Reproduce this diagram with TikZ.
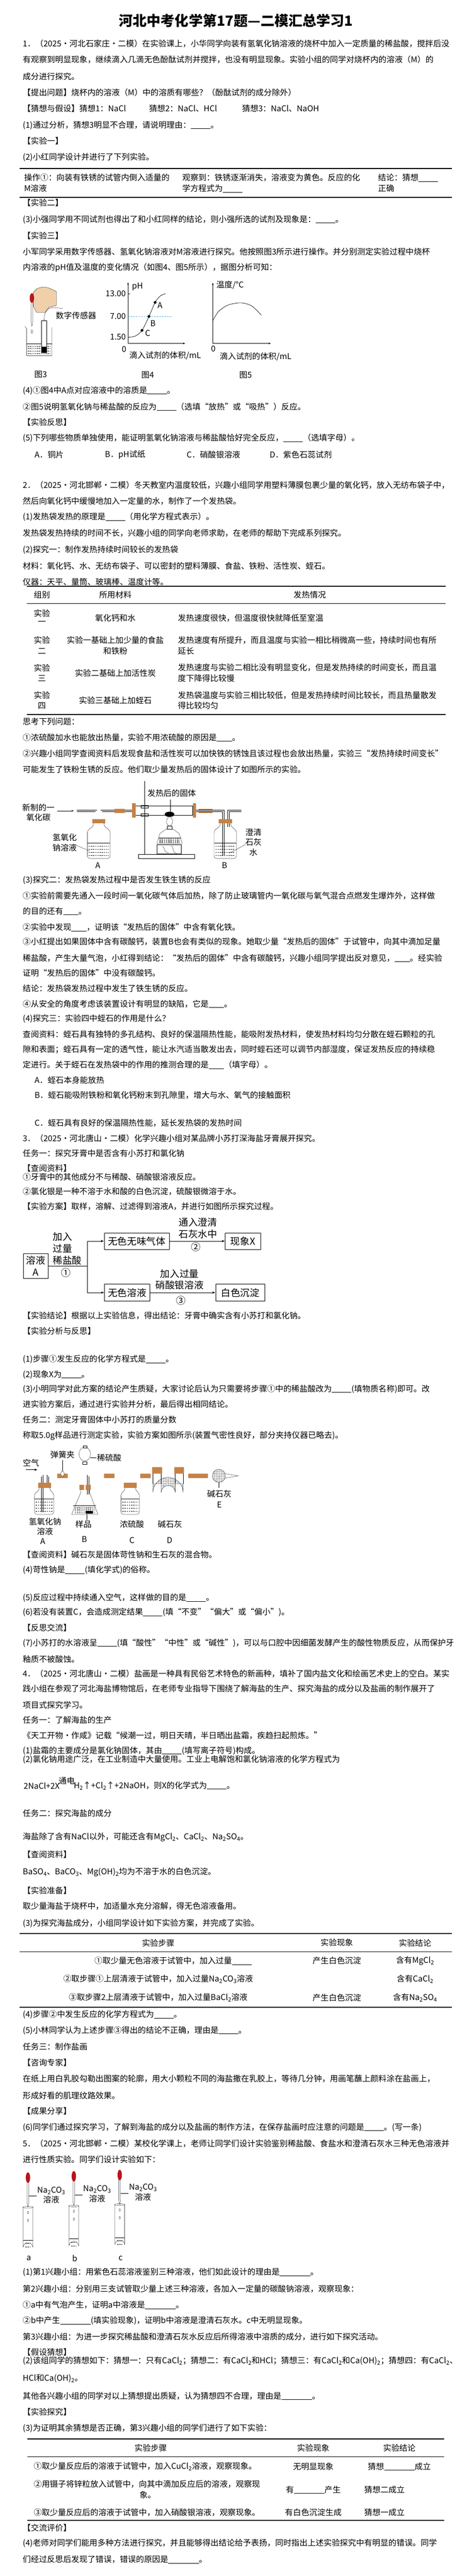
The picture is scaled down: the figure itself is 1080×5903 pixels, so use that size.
\documentclass[tikz,border=0pt]{standalone}
\usepackage{fontspec}
\setmainfont{Noto Sans CJK SC}
\usepackage{tikz}
\usetikzlibrary{positioning}
\usetikzlibrary{arrows.meta}
\usetikzlibrary{patterns}
\definecolor{rubber}{RGB}{196,130,70}
\definecolor{skin}{RGB}{240,208,170}
\definecolor{bulbred}{RGB}{185,20,30}
\definecolor{phblue}{RGB}{60,170,220}
\newcommand\fs{\fontsize{18.5}{23}\selectfont}
\newcommand\blank[1][45pt]{\underline{\hspace{#1}}}
\newcommand\sub[1]{\textsubscript{#1}}
\newcounter{ln}
\newcommand\qline[2]{\stepcounter{ln}\node[txt] (ln\theln) at (52,#1) {#2};}
\newcommand\qat[3]{\stepcounter{ln}\node[txt] (ln\theln) at (#1,#2) {#3};}
\newcommand\qmid[3]{\stepcounter{ln}\node[cell] (ln\theln) at (#1,#2) {#3};}
\newcommand\liquid[4]{\draw (#1,#3) -- (#2,#3);
  \foreach \k in {1,...,4}{\draw[densely dashed, thin] (#1+3,{#3+\k*(#4-#3)/5}) -- (#2-3,{#3+\k*(#4-#3)/5});}}
\tikzset{
	txt/.style={anchor=west, inner sep=0pt, font=\fs},
	cell/.style={inner sep=0pt, font=\fs},
	lbl/.style={inner sep=0pt, font=\fs, align=center},
	glass/.style={double distance=3pt, line width=0.6pt},
	fbox/.style={draw, thick, inner sep=3pt, minimum height=38pt, font=\fontsize{22}{27}\selectfont, align=center},
	rule/.style={line width=2.5pt},
	thinrule/.style={line width=0.8pt},
}
\begin{document}
\begin{tikzpicture}[x=1pt, y=-1pt]
		\useasboundingbox[fill=white] (0,0) rectangle (1080,5903);
		% Title
		\node[inner sep=0pt, font=\fontsize{32}{36}\selectfont\bfseries] (title) at (540,47) {河北中考化学第17题---二模汇总学习1};
		% Question 1
		\qline{100}{1．（2025·河北石家庄·二模）在实验课上，小华同学向装有氢氧化钠溶液的烧杯中加入一定质量的稀盐酸，搅拌后没}
		\qline{137}{有观察到明显现象，继续滴入几滴无色酚酞试剂并搅拌，也没有明显现象。实验小组的同学对烧杯内的溶液（M）的}
		\qline{175}{成分进行探究。}
		\qline{212}{【提出问题】烧杯内的溶液（M）中的溶质有哪些？（酚酞试剂的成分除外）}
		\qline{248}{【猜想与假设】猜想1：NaCl}
		\qat{341}{248}{猜想2：NaCl、HCl}
		\qat{554}{248}{猜想3：NaCl、NaOH}
		\qline{287}{(1)通过分析，猜想3明显不合理，请说明理由：\blank。}
		\qline{323}{【实验一】}
		\qline{360}{(2)小红同学设计并进行了下列实验。}
		\draw[rule] (45,386) -- (1034,386);
		\qat{55}{407}{操作①：向装有铁锈的试管内倒入适量的}
		\qat{55}{432}{M溶液}
		\qat{417}{407}{观察到：铁锈逐渐消失，溶液变为黄色。反应的化}
		\qat{417}{432}{学方程式为\blank}
		\qat{865}{407}{结论：猜想\blank}
		\qat{865}{432}{正确}
		\draw[rule] (45,452) -- (1034,452);
		\qline{465}{【实验二】}
		\qline{503}{(3)小强同学用不同试剂也得出了和小红同样的结论，则小强所选的试剂及现象是：\blank。}
		\qline{540}{【实验三】}
		\qline{577}{小军同学采用数字传感器、氢氧化钠溶液对M溶液进行探究。他按照图3所示进行操作。并分别测定实验过程中烧杯}
		\qline{613}{内溶液的pH值及温度的变化情况（如图4、图5所示），据图分析可知：}
		% Figure 3: dropper, beaker and sensor
		\filldraw[fill=skin] (76,702) -- (76,672) .. controls (80,660) and (96,655) .. (112,660) -- (129,668) -- (129,700) -- (112,704) -- (104,716) -- (84,716) -- cycle;
		\fill[bulbred] (73,683) ellipse (5 and 11);
		\draw (71,694) -- (71,736) -- (73,748) -- (75,736) -- (75,694);
		\draw (57,748) -- (61,753) -- (61,815) -- (119,815) -- (119,750);
		\liquid{61}{119}{788}{815}
		\draw[fill=white] (95,735) rectangle (107,808);
		\fill (96,794) rectangle (106,807);
		\draw (101,735) .. controls (101,700) and (118,704) .. (144,707);
		\draw (73,760) ellipse (2 and 4);
		\node[lbl] (sensor) at (174,723) {数字传感器};
		\node[lbl] (f3) at (93,858) {图3};
		% Figure 4: pH curve
		\draw[-{Latex}] (293,787) -- (293,647);
		\draw[-{Latex}] (293,787) -- (424,787);
		\draw (293,673) -- (298,673);
		\node[lbl, anchor=east] (t13) at (288,673) {13.00};
		\node[lbl, anchor=east] (t7) at (288,725) {7.00};
		\node[lbl, anchor=east] (t15) at (288,772) {1.50};
		\node[lbl, anchor=west] (phl) at (302,657) {pH};
		\draw[phblue, dashed, thick] (293,725) -- (393,725);
		\draw[thick] plot[smooth] coordinates {(293,773) (310,770) (325,757) (341,725) (355,693) (367,678) (379,673)};
		\fill (325,757) circle (3.2) (341,725) circle (3.2) (355,693) circle (3.2);
		\node[lbl] (pA) at (366,700) {A};
		\node[lbl] (pB) at (350,741) {B};
		\node[lbl] (pC) at (338,763) {C};
		\node[lbl] (o4) at (284,800) {0};
		\node[lbl, anchor=west] (x4) at (296,815) {滴入试剂的体积/mL};
		\node[lbl] (f4) at (338,859) {图4};
		% Figure 5: temperature curve
		\draw[-{Latex}] (487,787) -- (487,648);
		\draw[-{Latex}] (487,787) -- (620,787);
		\node[lbl, anchor=west] (tl) at (495,653) {温度/°C};
		\draw[thick] plot[smooth] coordinates {(487,735) (500,714) (522,699) (551,694) (576,701) (598,722)};
		\node[lbl] (o5) at (488,799) {0};
		\node[lbl, anchor=west] (x5) at (503,817) {滴入试剂的体积/mL};
		\node[lbl] (f5) at (562,859) {图5};
		\qline{895}{(4)①图4中A点对应溶液中的溶质是\blank。}
		\qline{932}{②图5说明氢氧化钠与稀盐酸的反应为\blank（选填“放热”或“吸热”）反应。}
		\qline{967}{【实验反思】}
		\qline{1004}{(5)下列哪些物质单独使用，能证明氢氧化钠溶液与稀盐酸恰好完全反应，\blank（选填字母）。}
		\qat{79}{1042}{A．铜片}
		\qat{240}{1042}{B．pH试纸}
		\qat{427}{1042}{C．硝酸银溶液}
		\qat{617}{1042}{D．紫色石蕊试剂}
		% Question 2
		\qline{1112}{2．（2025·河北邯郸·二模）冬天教室内温度较低，兴趣小组同学用塑料薄膜包裹少量的氧化钙，放入无纺布袋子中，}
		\qline{1148}{然后向氧化钙中缓慢地加入一定量的水，制作了一个发热袋。}
		\qline{1185}{(1)发热袋发热的原理是\blank（用化学方程式表示）。}
		\qline{1222}{发热袋发热持续的时间不长，兴趣小组的同学向老师求助，在老师的帮助下完成系列探究。}
		\qline{1260}{(2)探究一：制作发热持续时间较长的发热袋}
		\qline{1297}{材料：氧化钙、水、无纺布袋子、可以密封的塑料薄膜、食盐、铁粉、活性炭、蛭石。}
		\qline{1333}{仪器：天平、量筒、玻璃棒、温度计等。}
		\draw[rule] (61,1343) -- (1020,1343);
		\qmid{96}{1363}{组别}
		\qmid{264}{1363}{所用材料}
		\qmid{709}{1363}{发热情况}
		\draw[thinrule] (61,1383) -- (1020,1383);
		\qmid{96}{1405}{实验}
		\qmid{96}{1428}{一}
		\qmid{264}{1416}{氧化钙和水}
		\qat{407}{1416}{发热速度很快，但温度很快就降低至室温}
		\qmid{96}{1467}{实验}
		\qmid{96}{1492}{二}
		\qmid{264}{1467}{实验一基础上加少量的食盐}
		\qmid{264}{1492}{和铁粉}
		\qat{407}{1467}{发热速度有所提升，而且温度与实验一相比稍微高一些，持续时间也有所}
		\qat{407}{1492}{延长}
		\qmid{96}{1530}{实验}
		\qmid{96}{1554}{三}
		\qmid{264}{1542}{实验二基础上加活性炭}
		\qat{407}{1530}{发热速度与实验二相比没有明显变化，但是发热持续的时间变长，而且温}
		\qat{407}{1554}{度下降得比较慢}
		\qmid{96}{1593}{实验}
		\qmid{96}{1617}{四}
		\qmid{264}{1605}{实验三基础上加蛭石}
		\qat{407}{1593}{发热袋温度与实验三相比较低，但是发热持续时间比较长，而且热量散发}
		\qat{407}{1617}{得比较均匀}
		\draw[rule] (61,1637) -- (1020,1637);
		\qline{1653}{思考下列问题：}
		\qline{1690}{①浓硫酸加水也能放出热量，实验不用浓硫酸的原因是\blank[35pt]。}
		\qline{1727}{②兴趣小组同学查阅资料后发现食盐和活性炭可以加快铁的锈蚀且该过程也会放出热量，实验三“发热持续时间变长”}
		\qline{1763}{可能发生了铁粉生锈的反应。他们取少量发热后的固体设计了如图所示的实验。}
		% Apparatus: carbon monoxide reduction
		\node[lbl] (coin) at (88,1862) {新制的一\\氧化碳};
		\draw[-{Latex}] (131,1858) -- (169,1858);
		\draw[glass] (176,1858) -- (220,1858) -- (220,1960);
		\draw[glass] (232,1895) -- (232,1858) -- (303,1858);
		\draw[rounded corners=5] (214,1886) -- (214,1893) -- (200,1903) -- (200,1967) -- (252,1967) -- (252,1903) -- (238,1893) -- (238,1886);
		\fill[rubber] (211,1877) rectangle (241,1887);
		\liquid{200}{252}{1932}{1967}
		\fill[rubber] (262,1853) rectangle (286,1863);
		\node[lbl] (naoh) at (148,1931) {氢氧化\\钠溶液};
		\draw (170,1935) -- (205,1950);
		\node[lbl] (bA) at (224,1983) {A};
		% hard glass tube on the stand
		\draw (310,1847) rectangle (441,1868);
		\fill[rubber] (302,1841) rectangle (310,1874);
		\fill[rubber] (441,1841) rectangle (449,1874);
		\draw[line width=1.2pt] (331,1790) -- (331,1958);
		\draw (323,1845) rectangle (339,1851) (323,1864) rectangle (339,1870);
		\draw[fill=white] (317,1958) rectangle (445,1967);
		\fill (388,1866) ellipse (11 and 6);
		\node[lbl] (solid) at (393,1817) {发热后的固体};
		\draw (390,1832) -- (390,1862);
		% alcohol lamp and block
		\draw (386,1872) .. controls (378,1880) and (380,1890) .. (388,1893) .. controls (396,1890) and (398,1880) .. (390,1872);
		\draw (383,1893) rectangle (393,1900);
		\draw (359,1933) -- (366,1910) -- (380,1900) -- (396,1900) -- (410,1910) -- (417,1933) -- cycle;
		\liquid{362}{414}{1920}{1933}
		\draw (359,1935) rectangle (414,1957);
		\draw (372,1940) .. controls (380,1945) and (372,1950) .. (386,1955) (392,1938) .. controls (400,1945) and (392,1950) .. (404,1956);
		% bottle B
		\fill[rubber] (455,1853) rectangle (486,1863);
		\draw[glass] (449,1858) -- (511,1858) -- (511,1960);
		\draw[glass] (523,1895) -- (523,1858) -- (552,1858);
		\draw[rounded corners=5] (504,1886) -- (504,1893) -- (490,1903) -- (490,1967) -- (541,1967) -- (541,1903) -- (528,1893) -- (528,1886);
		\fill[rubber] (501,1877) rectangle (531,1887);
		\liquid{490}{541}{1932}{1967}
		\node[lbl] (lime) at (580,1930) {澄清\\石灰\\水};
		\draw (562,1935) -- (525,1955);
		\node[lbl] (bB) at (514,1983) {B};
		\qline{2017}{(3)探究二：发热袋发热过程中是否发生铁生锈的反应}
		\qline{2053}{①实验前需要先通入一段时间一氧化碳气体后加热，除了防止玻璃管内一氧化碳与氧气混合点燃发生爆炸外，这样做}
		\qline{2088}{的目的还有\blank[35pt]。}
		\qline{2125}{②实验中发现\blank[35pt]，证明该“发热后的固体”中含有氧化铁。}
		\qline{2158}{③小红提出如果固体中含有碳酸钙，装置B也会有类似的现象。她取少量“发热后的固体”于试管中，向其中滴加足量}
		\qline{2195}{稀盐酸，产生大量气泡，小红得到结论：“发热后的固体”中含有碳酸钙，兴趣小组同学提出反对意见，\blank[35pt]。经实验}
		\qline{2230}{证明“发热后的固体”中没有碳酸钙。}
		\qline{2265}{结论：发热袋发热过程中发生了铁生锈的反应。}
		\qline{2300}{④从安全的角度考虑该装置设计有明显的缺陷，它是\blank[35pt]。}
		\qline{2335}{(4)探究三：实验四中蛭石的作用是什么？}
		\qline{2370}{查阅资料：蛭石具有独特的多孔结构、良好的保温隔热性能，能吸附发热材料，使发热材料均匀分散在蛭石颗粒的孔}
		\qline{2405}{隙和表面；蛭石具有一定的透气性，能让水汽适当散发出去，同时蛭石还可以调节内部湿度，保证发热反应的持续稳}
		\qline{2440}{定进行。关于蛭石在发热袋中的作用的推测合理的是\blank[35pt]（填字母）。}
		\qat{79}{2475}{A．蛭石本身能放热}
		\qat{79}{2510}{B．蛭石能吸附铁粉和氧化钙粉末到孔隙里，增大与水、氧气的接触面积}
		\qat{79}{2573}{C．蛭石具有良好的保温隔热性能，延长发热袋的发热时间}
		% Question 3
		\qline{2608}{3．（2025·河北唐山·二模）化学兴趣小组对某品牌小苏打深海盐牙膏展开探究。}
		\qline{2643}{任务一：探究牙膏中是否含有小苏打和氯化钠}
		\qline{2677}{【查阅资料】}
		\qline{2697}{①牙膏中的其他成分不与稀酸、硝酸银溶液反应。}
		\qline{2730}{②氯化银是一种不溶于水和酸的白色沉淀，硫酸银微溶于水。}
		\qline{2765}{【实验方案】取样，溶解、过滤得到溶液A，并进行如图所示探究过程。}
		% Flow chart
		\node[fbox, minimum width=56pt, minimum height=57pt, inner sep=1pt] (solA) at (82,2901) {溶液\\A};
		\node[fbox, minimum width=149pt] (gas) at (313,2844) {无色无味气体};
		\node[fbox, minimum width=81pt] (phx) at (556,2844) {现象X};
		\node[fbox, minimum width=104pt] (sol) at (291,2962) {无色溶液};
		\node[fbox, minimum width=113pt] (ppt) at (550,2962) {白色沉淀};
		\coordinate (fork) at (200,2901);
		\draw[thick] (solA.east) -- (fork);
		\draw[thick, -{Latex}] (fork) |- (gas.west);
		\draw[thick, -{Latex}] (fork) |- (sol.west);
		\draw[thick, -{Latex}] (gas.east) -- (phx.west);
		\draw[thick, -{Latex}] (sol.east) -- (ppt.west);
		\node[lbl, anchor=west, font=\fontsize{22}{27}\selectfont, align=left] (acid) at (121,2861) {加入\\过量\\稀盐酸};
		\node[lbl, font=\fontsize{22}{27}\selectfont] (s1) at (151,2917) {①};
		\node[lbl, font=\fontsize{22}{27}\selectfont] (lime2) at (453,2814) {通入澄清\\石灰水中};
		\node[lbl, font=\fontsize{22}{27}\selectfont] (s2) at (448,2857) {②};
		\node[lbl, font=\fontsize{22}{27}\selectfont] (agno) at (411,2932) {加入过量\\硝酸银溶液};
		\node[lbl, font=\fontsize{22}{27}\selectfont] (s3) at (414,2980) {③};
		\qline{3015}{【实验结论】根据以上实验信息，得出结论：牙膏中确实含有小苏打和氯化钠。}
		\qline{3050}{【实验分析与反思】}
		\qline{3115}{(1)步骤①发生反应的化学方程式是\blank。}
		\qline{3150}{(2)现象X为\blank。}
		\qline{3183}{(3)小明同学对此方案的结论产生质疑，大家讨论后认为只需要将步骤①中的稀盐酸改为\blank(填物质名称)即可。改}
		\qline{3218}{进实验方案后，通过进行实验并分析，最后得出相同结论。}
		\qline{3253}{任务二：测定牙膏固体中小苏打的质量分数}
		\qline{3290}{称取5.0g样品进行测定实验，实验方案如图所示(装置气密性良好，部分夹持仪器已略去)。}
		% Apparatus: air, A to E
		\node[lbl] (air) at (71,3352) {空气};
		\draw[-{Latex}, thick] (59,3368) -- (86,3368);
		\draw[glass] (72,3382) -- (97,3382) -- (97,3465);
		\draw[glass] (110,3410) -- (110,3382) -- (186,3382) -- (186,3425);
		\draw[glass] (202,3425) -- (202,3382) -- (290,3382) -- (290,3465);
		\draw[glass] (305,3410) -- (305,3382) -- (350,3382);
		\draw[glass] (419,3382) -- (486,3382);
		\fill[rubber] (131,3377) rectangle (155,3387) (238,3377) rectangle (262,3387) (321,3377) rectangle (345,3387) (431,3377) rectangle (476,3387);
		\draw[fill=white] (143,3377) ellipse (4 and 6);
		\node[lbl] (clip) at (143,3333) {弹簧夹};
		\draw (143,3346) -- (143,3370);
		% bottle A
		\draw[rounded corners=5] (90,3408) -- (90,3415) -- (79,3422) -- (79,3470) -- (123,3470) -- (123,3422) -- (114,3415) -- (114,3408);
		\fill[rubber] (87,3398) rectangle (117,3409);
		\liquid{79}{123}{3435}{3470}
		\node[lbl] (naoh2) at (103,3498) {氢氧化钠\\溶液};
		\node[lbl] (aA) at (98,3532) {A};
		% flask B and funnel
		\fill[rubber] (182,3402) rectangle (208,3414);
		\draw (185,3414) -- (185,3420) -- (164,3470) -- (224,3470) -- (205,3420) -- (205,3414);
		\liquid{168}{220}{3450}{3470}
		\fill (196,3463) rectangle (212,3469);
		\draw[fill=white] (194,3332) ellipse (13 and 16);
		\draw[fill=white] (190,3313) rectangle (198,3318);
		\draw[glass] (194,3348) -- (194,3445);
		\draw[fill=white] (189,3350) rectangle (199,3356);
		\node[lbl, anchor=west] (h2so4) at (222,3340) {稀硫酸};
		\draw (207,3340) -- (221,3340);
		\node[lbl] (samp) at (191,3493) {样品};
		\draw (198,3470) -- (198,3483);
		\node[lbl] (aB) at (193,3527) {B};
		% bottle C
		\draw[rounded corners=5] (286,3408) -- (286,3415) -- (277,3422) -- (277,3470) -- (319,3470) -- (319,3422) -- (310,3415) -- (310,3408);
		\fill[rubber] (283,3398) rectangle (313,3409);
		\liquid{277}{319}{3435}{3470}
		\node[lbl] (conc) at (302,3493) {浓硫酸};
		\node[lbl] (aC) at (302,3530) {C};
		% U-tube D
		\draw[pattern=crosshatch dots] (350,3400) -- (350,3420) arc (180:360:34.5) -- (419,3400) -- (401,3400) -- (401,3420) arc (360:180:16) -- (369,3400) -- cycle;
		\draw (350,3400) -- (350,3370) (369,3400) -- (369,3370) (401,3400) -- (401,3370) (419,3400) -- (419,3370);
		\fill[rubber] (348,3362) rectangle (371,3377) (399,3362) rectangle (421,3377);
		\node[lbl] (soda) at (389,3493) {碱石灰};
		\node[lbl] (aD) at (388,3530) {D};
		% drying tube E
		\draw[pattern=crosshatch dots] (501,3382) circle (15);
		\draw (516,3377) -- (545,3382) -- (516,3387);
		\draw (501,3397) -- (501,3410);
		\node[lbl] (soda2) at (502,3423) {碱石灰};
		\node[lbl] (aE) at (502,3448) {E};
		\qline{3562}{【查阅资料】碱石灰是固体苛性钠和生石灰的混合物。}
		\qline{3598}{(4)苛性钠是\blank(填化学式)的俗称。}
		\qline{3662}{(5)反应过程中持续通入空气，这样做的目的是\blank。}
		\qline{3695}{(6)若没有装置C，会造成测定结果\blank(填“不变”“偏大”或“偏小”)。}
		\qline{3730}{【反思交流】}
		\qline{3765}{(7)小苏打的水溶液呈\blank(填“酸性”“中性”或“碱性”)，可以与口腔中因细菌发酵产生的酸性物质反应，从而保护牙}
		\qline{3802}{釉质不被酸蚀。}
		% Question 4
		\qline{3835}{4．（2025·河北唐山·二模）盐画是一种具有民俗艺术特色的新画种，填补了国内盐文化和绘画艺术史上的空白。某实}
		\qline{3870}{践小组在参观了河北海盐博物馆后，在老师专业指导下围绕了解海盐的生产、探究海盐的成分以及盐画的制作展开了}
		\qline{3907}{项目式探究学习。}
		\qline{3942}{任务一：了解海盐的生产}
		\qline{3977}{《天工开物·作咸》记载“候潮一过，明日天晴，半日晒出盐霜，疾趋扫起煎炼。”}
		\qline{4012}{(1)盐霜的主要成分是氯化钠固体，其由\blank(填写离子符号)构成。}
		\qline{4032}{(2)氯化钠用途广泛，在工业制造中大量使用。工业上电解饱和氯化钠溶液的化学方程式为}
		\node[txt] (eqL) at (54,4092) {2NaCl+2X};
		\node[txt, right=32pt of eqL] (eqR) {H\sub{2}↑+Cl\sub{2}↑+2NaOH，则X的化学式为\blank。};
		\draw[double distance=1.6pt] ([xshift=3pt]eqL.east) -- ([xshift=29pt]eqL.east) node[midway, above=3pt, inner sep=0pt, font=\fs] (elec) {通电};
		\qline{4155}{任务二：探究海盐的成分}
		\qline{4210}{海盐除了含有NaCl以外，可能还含有MgCl\sub{2}、CaCl\sub{2}、Na\sub{2}SO\sub{4}。}
		\qline{4250}{【查阅资料】}
		\qline{4290}{BaSO\sub{4}、BaCO\sub{3}、Mg(OH)\sub{2}均为不溶于水的白色沉淀。}
		\qline{4332}{【实验准备】}
		\qline{4368}{取少量海盐于烧杯中，加适量水充分溶解，得无色溶液备用。}
		\qline{4407}{(3)为探究海盐成分，小组同学设计如下实验方案，并完成了实验。}
		\draw[rule] (45,4431) -- (1034,4431);
		\qmid{362}{4452}{实验步骤}
		\qmid{771}{4452}{实验现象}
		\qmid{950}{4452}{实验结论}
		\draw[thinrule] (45,4472) -- (1034,4472);
		\qmid{396}{4493}{①取少量无色溶液于试管中，加入过量\blank}
		\qmid{771}{4493}{产生白色沉淀}
		\qmid{950}{4493}{含有MgCl\sub{2}}
		\qmid{362}{4535}{②取步骤①上层清液于试管中，加入过量Na\sub{2}CO\sub{3}溶液}
		\qmid{950}{4535}{含有CaCl\sub{2}}
		\qmid{362}{4578}{③取步骤2上层清液于试管中，加入过量BaCl\sub{2}溶液}
		\qmid{771}{4578}{产生白色沉淀}
		\qmid{950}{4578}{含有Na\sub{2}SO\sub{4}}
		\draw[rule] (45,4600) -- (1034,4600);
		\qline{4617}{(4)步骤②中发生反应的化学方程式为\blank。}
		\qline{4653}{(5)小林同学认为上述步骤③得出的结论不正确，理由是\blank。}
		\qline{4690}{任务三：制作盐画}
		\qline{4727}{【咨询专家】}
		\qline{4763}{在纸上用白乳胶勾勒出图案的轮廓，用大小颗粒不同的海盐撒在乳胶上，等待几分钟，用画笔蘸上颜料涂在盐画上，}
		\qline{4802}{形成好看的肌理纹路效果。}
		\qline{4837}{【成果分享】}
		\qline{4875}{(6)同学们通过探究学习，了解到海盐的成分以及盐画的制作方法，在保存盐画时应注意的问题是\blank。(写一条)}
		% Question 5
		\qline{4912}{5．（2025·河北邯郸·二模）某校化学课上，老师让同学们设计实验鉴别稀盐酸、食盐水和澄清石灰水三种无色溶液并}
		\qline{4948}{进行性质实验。同学们设计实验如下：}
		% Droppers and test tubes a, b, c
		\foreach \tx/\ty/\tl/\nm in {64/4978/a/ta, 169/4975/b/tb, 274/4972/c/tc}{
			\fill[bulbred] (\tx,\ty+12) ellipse (5 and 12);
			\draw (\tx-2,\ty+22) -- (\tx-2,\ty+70) -- (\tx,\ty+80) -- (\tx+2,\ty+70) -- (\tx+2,\ty+22);
			\draw (\tx+2,\ty+54) -- (\tx+20,\ty+54);
			\node[lbl, anchor=west] (\nm lab) at (\tx+21,\ty+52) {Na\sub{2}CO\sub{3}\\溶液};
			\draw (\tx-11,\ty+80) -- (\tx-11,\ty+172) arc (180:360:11) -- (\tx+11,\ty+80);
			\draw (\tx,\ty+80) ellipse (12 and 2);
			\draw (\tx-11,\ty+155) -- (\tx+11,\ty+155);
			\draw[densely dashed] (\tx-6,\ty+163) -- (\tx+6,\ty+163) (\tx-6,\ty+171) -- (\tx+6,\ty+171);
			\draw (\tx,\ty+92) ellipse (1.5 and 3) (\tx,\ty+110) ellipse (1.5 and 3);
			\node[lbl] (\nm) at (\tx+2,5175) {\tl};
		}
		\qline{5207}{(1)第1兴趣小组：用紫色石蕊溶液鉴别三种溶液，他们如此设计的理由是\blank[70pt]。}
		\qline{5245}{第2兴趣小组：分别用三支试管取少量上述三种溶液，各加入一定量的碳酸钠溶液，观察现象：}
		\qline{5282}{①a中有气泡产生，证明a中溶液是\blank[70pt]。}
		\qline{5318}{②b中产生\blank[70pt](填实验现象)，证明b中溶液是澄清石灰水。c中无明显现象。}
		\qline{5355}{第3兴趣小组：为进一步探究稀盐酸和澄清石灰水反应后所得溶液中溶质的成分，进行如下探究活动。}
		\qline{5390}{【假设猜想】}
		\qline{5410}{(2)该组同学的猜想如下：猜想一：只有CaCl\sub{2}；猜想二：有CaCl\sub{2}和HCl；猜想三：有CaCl\sub{2}和Ca(OH)\sub{2}；猜想四：有CaCl\sub{2}、}
		\qline{5450}{HCl和Ca(OH)\sub{2}。}
		\qline{5490}{其他各兴趣小组的同学对以上猜想提出质疑，认为猜想四不合理，理由是\blank[70pt]。}
		\qline{5527}{【实验探究】}
		\qline{5565}{(3)为证明其余猜想是否正确，第3兴趣小组的同学们进行了如下实验：}
		\draw[rule] (63,5589) -- (1017,5589);
		\qmid{345}{5610}{实验步骤}
		\qmid{717}{5610}{实验现象}
		\qmid{914}{5610}{实验结论}
		\draw[thinrule] (63,5629) -- (1017,5629);
		\qat{77}{5652}{①取少量反应后的溶液于试管中，加入CuCl\sub{2}溶液，观察现象。}
		\qmid{717}{5652}{无明显现象}
		\qmid{914}{5652}{猜想\blank[70pt]成立}
		\qat{77}{5693}{②用镊子将锌粒放入试管中，向其中滴加反应后的溶液，观察现}
		\qmid{338}{5717}{象。}
		\qmid{717}{5705}{有\blank[70pt]产生}
		\qmid{880}{5705}{猜想二成立}
		\qat{77}{5757}{③取少量反应后的溶液于试管中，加入硝酸银溶液，观察现象。}
		\qmid{717}{5757}{有白色沉淀生成}
		\qmid{880}{5757}{猜想一成立}
		\draw[rule] (63,5775) -- (1017,5775);
		\qline{5792}{【交流评价】}
		\qline{5828}{(4)老师对同学们能用多种方法进行探究，并且能够得出结论给予表扬，同时指出上述实验探究中有明显的错误。同学}
		\qline{5865}{们经过反思后发现了错误，错误的原因是\blank[70pt]。}
\end{tikzpicture}
\end{document}
